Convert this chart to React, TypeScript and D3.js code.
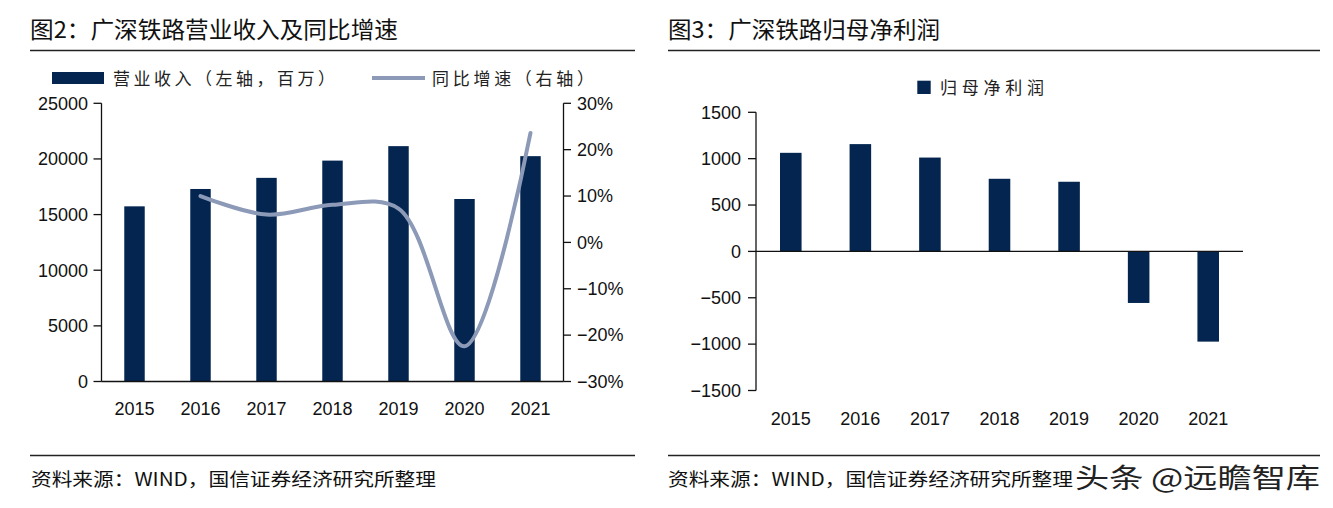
import React from 'react';
import * as d3 from 'd3';

const years = ['2015', '2016', '2017', '2018', '2019', '2020', '2021'];
const revenue = [15740, 17300, 18300, 19850, 21150, 16400, 20250];
const growth: (number | null)[] = [null, 10.0, 6.0, 8.1, 7.3, -22.4, 23.6];
const netProfit = [1063, 1157, 1012, 783, 751, -556, -973];
const revTicks = [0, 5000, 10000, 15000, 20000, 25000];
const growthTicks = [-30, -20, -10, 0, 10, 20, 30];
const profitTicks = [-1500, -1000, -500, 0, 500, 1000, 1500];

const title2 = '图2：广深铁路营业收入及同比增速';
const title3 = '图3：广深铁路归母净利润';
const legendRevenue = '营业收入（左轴，百万）';
const legendGrowth = '同比增速（右轴）';
const legendProfit = '归母净利润';
const source = '资料来源：WIND，国信证券经济研究所整理';
const watermark = '头条 @远瞻智库';

const NAVY = '#03254f';
const LINE = '#8c9ab8';
const CJK = '"Noto Sans CJK SC", "Noto Sans", sans-serif';
const NUM = '"Liberation Sans", Arial, sans-serif';
const minus = (v: number) => (v < 0 ? '\u2212' + Math.abs(v) : String(v));

export default function App() {
  // Left chart scales
  const x1 = d3.scaleBand<string>().domain(years).range([101.5, 563.5]).paddingInner(0.69).paddingOuter(0.345);
  const yL = d3.scaleLinear().domain([0, 25000]).range([381.5, 103.3]);
  const yR = d3.scaleLinear().domain([-30, 30]).range([381.5, 103.3]);
  const pts: [number, number][] = years
    .map((y, i) => [y, growth[i]] as [string, number | null])
    .filter((d) => d[1] !== null)
    .map((d) => [x1(d[0])! + x1.bandwidth() / 2, yR(d[1] as number)]);
  const linePath = d3.line().curve(d3.curveCatmullRom.alpha(0.5))(pts) || '';

  // Right chart scales
  const x2 = d3.scaleBand<string>().domain(years).range([756, 1243]).paddingInner(0.69).paddingOuter(0.345);
  const y2 = d3.scaleLinear().domain([-1500, 1500]).range([390.5, 112.3]);

  const axisStroke = '#111';
  const labelFs = 18;

  return (
    <svg width={1333} height={508} style={{ position: 'absolute', left: 0, top: 0, background: '#fff' }}>
      <rect x={0} y={0} width={1333} height={508} fill="#fff" />
      {/* Titles */}
      <text x={30} y={37.5} fontFamily={CJK} fontSize={23} fill="#111" textLength={368} lengthAdjust="spacingAndGlyphs">{title2}</text>
      <text x={668} y={37.5} fontFamily={CJK} fontSize={23} fill="#111" textLength={272} lengthAdjust="spacingAndGlyphs">{title3}</text>
      <line x1={30} x2={635} y1={50.5} y2={50.5} stroke="#222" strokeWidth={1.5} />
      <line x1={668} x2={1320} y1={50.5} y2={50.5} stroke="#222" strokeWidth={1.5} />

      {/* Left legend */}
      <rect x={52} y={72} width={52} height={12} fill={NAVY} />
      <text x={113} y={84.5} fontFamily={CJK} fontSize={17} fill="#222" textLength={222} lengthAdjust="spacing">{legendRevenue}</text>
      <line x1={372} x2={425} y1={78} y2={78} stroke={LINE} strokeWidth={4} />
      <text x={432} y={84.5} fontFamily={CJK} fontSize={17} fill="#222" textLength={162} lengthAdjust="spacing">{legendGrowth}</text>

      {/* Left bars */}
      {years.map((y, i) => (
        <rect key={y} x={x1(y)} y={yL(revenue[i])} width={x1.bandwidth()} height={yL(0) - yL(revenue[i])} fill={NAVY} />
      ))}
      {/* Left axis */}
      <line x1={101.5} x2={101.5} y1={yL(25000)} y2={yL(0)} stroke={axisStroke} strokeWidth={1.3} />
      {revTicks.map((t) => (
        <g key={t}>
          <line x1={93.5} x2={101.5} y1={yL(t)} y2={yL(t)} stroke={axisStroke} strokeWidth={1.3} />
          <text x={88} y={yL(t)} dy="0.35em" textAnchor="end" fontFamily={NUM} fontSize={labelFs} fill="#111">{t}</text>
        </g>
      ))}
      {/* Right axis */}
      <line x1={563.5} x2={563.5} y1={yR(30)} y2={yR(-30)} stroke={axisStroke} strokeWidth={1.3} />
      {growthTicks.map((t) => (
        <g key={t}>
          <line x1={563.5} x2={571} y1={yR(t)} y2={yR(t)} stroke={axisStroke} strokeWidth={1.3} />
          <text x={577} y={yR(t)} dy="0.35em" textAnchor="start" fontFamily={NUM} fontSize={labelFs} fill="#111">{minus(t) + '%'}</text>
        </g>
      ))}
      {/* x axis */}
      <line x1={101.5} x2={563.5} y1={yL(0)} y2={yL(0)} stroke={axisStroke} strokeWidth={1.3} />
      {years.map((y) => (
        <text key={y} x={x1(y)! + x1.bandwidth() / 2} y={408.3} dy="0.35em" textAnchor="middle" fontFamily={NUM} fontSize={labelFs} fill="#111">{y}</text>
      ))}
      {/* Growth line */}
      <path d={linePath} fill="none" stroke={LINE} strokeWidth={4} strokeLinecap="round" strokeLinejoin="round" />

      {/* Right legend */}
      <rect x={917.3} y={80.7} width={13.4} height={13.3} fill={NAVY} />
      <text x={940} y={94} fontFamily={CJK} fontSize={17} fill="#222" textLength={104} lengthAdjust="spacing">{legendProfit}</text>

      {/* Right bars */}
      {years.map((y, i) => (
        <rect key={y} x={x2(y)} y={y2(Math.max(0, netProfit[i]))} width={x2.bandwidth()} height={Math.abs(y2(netProfit[i]) - y2(0))} fill={NAVY} />
      ))}
      <line x1={756} x2={756} y1={y2(1500)} y2={y2(-1500)} stroke={axisStroke} strokeWidth={1.3} />
      {profitTicks.map((t) => (
        <g key={t}>
          <line x1={748} x2={756} y1={y2(t)} y2={y2(t)} stroke={axisStroke} strokeWidth={1.3} />
          <text x={741} y={y2(t)} dy="0.35em" textAnchor="end" fontFamily={NUM} fontSize={labelFs} fill="#111">{minus(t)}</text>
        </g>
      ))}
      <line x1={756} x2={1243} y1={y2(0)} y2={y2(0)} stroke={axisStroke} strokeWidth={1.3} />
      {years.map((y) => (
        <text key={y} x={x2(y)! + x2.bandwidth() / 2} y={418.3} dy="0.35em" textAnchor="middle" fontFamily={NUM} fontSize={labelFs} fill="#111">{y}</text>
      ))}

      {/* Footer */}
      <line x1={30} x2={635} y1={455.5} y2={455.5} stroke="#222" strokeWidth={1.5} />
      <line x1={668} x2={1320} y1={455.5} y2={455.5} stroke="#222" strokeWidth={1.5} />
      <text x={31} y={486} fontFamily={CJK} fontSize={18} fill="#111" textLength={405} lengthAdjust="spacingAndGlyphs">{source}</text>
      <text x={668} y={486} fontFamily={CJK} fontSize={18} fill="#111" textLength={405} lengthAdjust="spacingAndGlyphs">{source}</text>
      <text x={1075} y={488} fontFamily={CJK} fontSize={27} fill="#222" stroke="#fff" strokeWidth={1} paintOrder="stroke" textLength={245} lengthAdjust="spacingAndGlyphs">{watermark}</text>
    </svg>
  );
}
